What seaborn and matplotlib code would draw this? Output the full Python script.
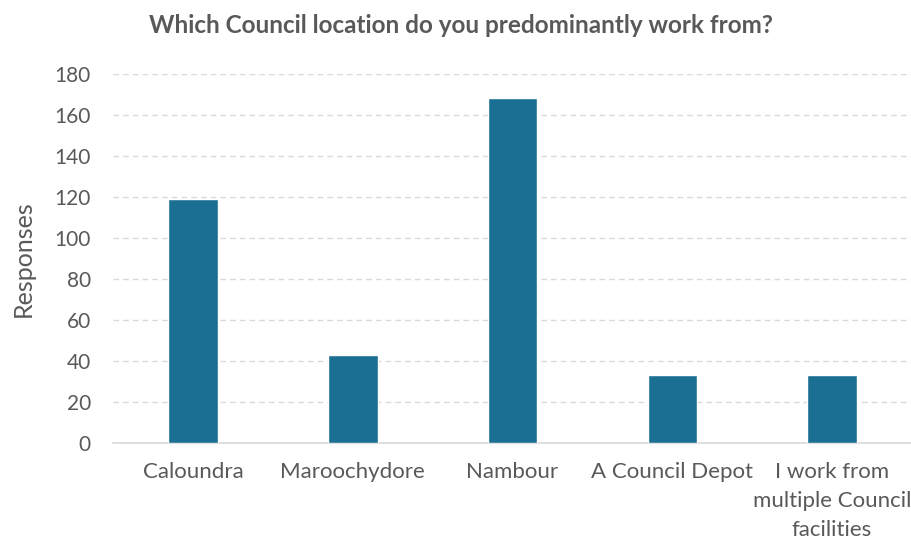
import matplotlib
matplotlib.use("Agg")
import matplotlib.pyplot as plt
import seaborn as sns
import pandas as pd

# === Data ===
locations = ["Caloundra", "Maroochydore", "Nambour", "A Council Depot",
             "I work from\nmultiple Council\nfacilities"]
responses = [119, 43, 168, 33, 33]
y_ticks = [0, 20, 40, 60, 80, 100, 120, 140, 160, 180]

BAR_COLOR = "#1A6F93"
TEXT_COLOR = "#595959"
GRID_COLOR = "#D9D9D9"

sns.set_style("white")
plt.rcParams["font.family"] = ["Lato", "DejaVu Sans"]

df = pd.DataFrame({"Location": locations, "Responses": responses})

fig = plt.figure(figsize=(9.12, 5.42), dpi=100)
ax = fig.add_axes([0.124, 0.183, 0.876, 0.681])

sns.barplot(data=df, x="Location", y="Responses", color=BAR_COLOR,
            width=0.31, saturation=1, ax=ax, zorder=3)

ax.set_ylim(0, 180)
ax.set_yticks(y_ticks)
ax.set_xlim(-0.5, len(locations) - 0.5)
ax.yaxis.grid(True, color=GRID_COLOR, linestyle=(0, (4, 3)), linewidth=1, zorder=0)
ax.xaxis.grid(False)

for side in ["top", "right", "left"]:
    ax.spines[side].set_visible(False)
ax.spines["bottom"].set_color(GRID_COLOR)
ax.spines["bottom"].set_linewidth(1.2)

ax.tick_params(axis="x", length=0, labelsize=16, labelcolor=TEXT_COLOR, pad=14)
ax.tick_params(axis="y", length=0, labelsize=15, labelcolor=TEXT_COLOR, pad=16)
for lbl in ax.get_xticklabels():
    lbl.set_linespacing(1.55)

ax.set_xlabel("")
ax.set_ylabel("Responses", fontsize=18, color=TEXT_COLOR, labelpad=14)

fig.text(0.505, 0.953, "Which Council location do you predominantly work from?",
         ha="center", va="center", fontsize=17.5, fontweight="bold", color=TEXT_COLOR)

fig.savefig("out.png", dpi=100)
